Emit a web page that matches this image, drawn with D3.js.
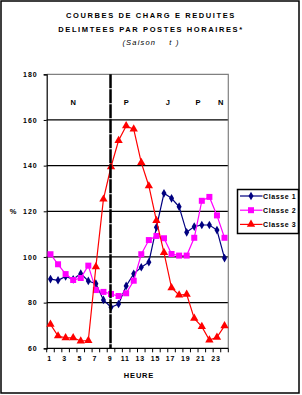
<!DOCTYPE html>
<html lang="fr">
<head>
  <meta charset="utf-8">
  <title>Courbes de charge</title>
  <script src="https://cdn.jsdelivr.net/npm/d3@7"></script>
  <style>
    body { margin: 0; background: #fff; }
    text { font-family: "Liberation Sans", Arial, sans-serif; }
  </style>
</head>
<body>
  <script>
    // data
    let hours = d3.range(1, 25);
    let classe1 = [90.3, 89.8, 91.5, 90.2, 92.7, 89.5, 88.3, 81.2, 78, 79.4, 87.3, 92.6,
                   95.5, 97.7, 113, 127.9, 125.7, 122, 110.8, 113.3, 114, 114, 111.8, 99.5];
    let classe2 = [101.2, 96.8, 92.5, 89.9, 90.8, 96.2, 85.5, 84.7, 83.8, 82.9, 84.1, 89.6,
                   101.2, 107.4, 109.2, 108.2, 101.3, 100.6, 100.6, 108.4, 124.6, 126.3, 118.2, 108.4];
    let classe3 = [70.5, 65.4, 64.6, 64.6, 63.2, 63.4, 95.7, 125.3, 139.5, 151, 157.4, 156,
                   141.3, 131.1, 115.9, 101.9, 86.5, 83.3, 83.6, 73.1, 69.5, 63.6, 64.8, 69.8];
    let yTicks = [60, 80, 100, 120, 140, 160, 180];
    let postes = [{ t: "N", h: 3.5 }, { t: "P", h: 10.5 }, { t: "J", h: 16 }, { t: "P", h: 20 }, { t: "N", h: 23 }];
    let series = [
      { name: "Classe 1", values: classe1, color: "#000080", shape: d3.symbolDiamond, size: 22 },
      { name: "Classe 2", values: classe2, color: "#ff00ff", shape: d3.symbolSquare, size: 36 },
      { name: "Classe 3", values: classe3, color: "#ff0000", shape: d3.symbolTriangle, size: 30 }
    ];

    let svg = d3.select("body").append("svg")
      .attr("width", 302).attr("height", 395);

    // outer frame
    svg.append("rect").attr("x", 1).attr("y", 1).attr("width", 298).attr("height", 392)
      .attr("fill", "white").attr("stroke", "black").attr("stroke-width", 1.5);

    // title
    let titleLines = ["COURBES DE CHARG E REDUITES", "DELIMTEES PAR POSTES HORAIRES*"];
    svg.selectAll(".title").data(titleLines).join("text")
      .attr("x", 151).attr("y", (d, i) => 18 + i * 13.5)
      .attr("text-anchor", "middle")
      .attr("font-size", 7.5).attr("font-weight", "bold").attr("letter-spacing", 1.6)
      .text(d => d);
    svg.append("text").attr("x", 151).attr("y", 44.5)
      .attr("text-anchor", "middle").attr("font-size", 7.5).attr("font-style", "italic")
      .attr("letter-spacing", 1.2).attr("xml:space", "preserve")
      .text("(Saison    t )");

    let pLeft = 46.7, pRight = 228.3, pTop = 74.3, pBottom = 348.3;
    let x = d3.scaleBand().domain(hours).range([pLeft, pRight]);
    let y = d3.scaleLinear().domain([60, 180]).range([pBottom, pTop]);
    let cx = h => x(h) + x.bandwidth() / 2;

    // gridlines
    svg.selectAll(".grid").data(yTicks.filter(v => v > 60 && v < 180)).join("line")
      .attr("x1", pLeft).attr("x2", pRight)
      .attr("y1", d => y(d)).attr("y2", d => y(d))
      .attr("stroke", "black").attr("stroke-width", 1.2);
    // top and right border (gray)
    svg.append("path")
      .attr("d", `M${pLeft},${y(180)}H${pRight}V${pBottom}`)
      .attr("fill", "none").attr("stroke", "#808080").attr("stroke-width", 1.2);

    // y axis
    let yAxis = d3.axisLeft(y).tickValues(yTicks).tickSize(3).tickPadding(6);
    let yAxisG = svg.append("g").attr("transform", `translate(${pLeft},0)`).call(yAxis);
    yAxisG.select(".domain").attr("stroke-width", 1.2);
    yAxisG.selectAll("text").attr("font-size", 7).attr("font-weight", "bold")
      .attr("letter-spacing", 1).attr("font-family", "Liberation Sans, Arial, sans-serif");

    // x axis: ticks at the category boundaries, labels on odd hours
    let bounds = d3.range(0, 25).map(i => pLeft + i * x.bandwidth());
    svg.selectAll(".xtick").data(bounds).join("line")
      .attr("x1", d => d).attr("x2", d => d)
      .attr("y1", pBottom).attr("y2", pBottom + 4)
      .attr("stroke", "black");
    svg.append("line").attr("x1", pLeft).attr("x2", pRight)
      .attr("y1", pBottom).attr("y2", pBottom)
      .attr("stroke", "black").attr("stroke-width", 1.2);
    svg.selectAll(".xlab").data(hours.filter(h => h % 2 == 1)).join("text")
      .attr("x", d => cx(d) - 1).attr("y", pBottom + 13)
      .attr("text-anchor", "middle").attr("font-size", 7).attr("font-weight", "bold")
      .attr("letter-spacing", 0.8)
      .text(d => d);

    // axis titles
    svg.append("text").attr("x", 139).attr("y", 378)
      .attr("text-anchor", "middle").attr("font-size", 7.5).attr("font-weight", "bold")
      .attr("letter-spacing", 0.8).text("HEURE");
    svg.append("text").attr("x", 13).attr("y", 214)
      .attr("text-anchor", "middle").attr("font-size", 7.5).attr("font-weight", "bold").text("%");

    // period labels
    svg.selectAll(".poste").data(postes).join("text")
      .attr("x", d => pLeft + (d.h - 0.5) * x.bandwidth() + x.bandwidth() / 2)
      .attr("y", 105)
      .attr("text-anchor", "middle").attr("font-size", 7.5).attr("font-weight", "bold")
      .text(d => d.t);

    // lines and markers
    let line = d3.line().x((d, i) => cx(hours[i])).y(d => y(d));
    series.forEach(s => {
      svg.append("path").attr("d", line(s.values))
        .attr("fill", "none").attr("stroke", s.color).attr("stroke-width", 1.2);
      svg.selectAll(null).data(s.values).join("path")
        .attr("transform", (d, i) => `translate(${cx(hours[i])},${y(d)})`)
        .attr("d", d3.symbol().type(s.shape).size(s.size))
        .attr("fill", s.color);
    });

    // hour 9 marker line
    svg.append("line")
      .attr("x1", cx(9) - 0.5).attr("x2", cx(9) - 0.5)
      .attr("y1", pTop).attr("y2", pBottom)
      .attr("stroke", "black").attr("stroke-width", 2.5)
      .attr("stroke-dasharray", "14 1");

    // legend
    let lg = svg.append("g").attr("transform", "translate(237.5,189.5)");
    lg.append("rect").attr("width", 61).attr("height", 44)
      .attr("fill", "white").attr("stroke", "black").attr("stroke-width", 1.5);
    series.forEach((s, i) => {
      let ly = 6.5 + i * 14.2;
      lg.append("line").attr("x1", 2.5).attr("x2", 25).attr("y1", ly).attr("y2", ly)
        .attr("stroke", s.color).attr("stroke-width", 1.2);
      lg.append("path").attr("transform", `translate(13.5,${ly})`)
        .attr("d", d3.symbol().type(s.shape).size(s.size)).attr("fill", s.color);
      lg.append("text").attr("x", 25.5).attr("y", ly + 2.5)
        .attr("font-size", 7).attr("font-weight", "bold").attr("letter-spacing", 0.6)
        .text(s.name);
    });
  </script>
</body>
</html>
